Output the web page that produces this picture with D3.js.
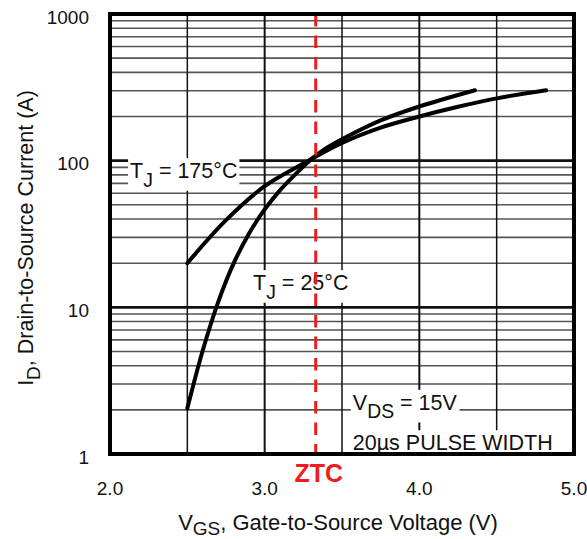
<!DOCTYPE html>
<html>
<head>
<meta charset="utf-8">
<script src="https://cdn.jsdelivr.net/npm/d3@7"></script>
<style>
  body { margin: 0; background: #fff; }
  svg { display: block; font-family: "Liberation Sans", Arial, sans-serif; }
</style>
</head>
<body>
<div id="chart"></div>
<script>
const vgs175 = [2.5, 2.75, 3.0, 3.25, 3.5, 3.75, 4.0, 4.25, 4.5, 4.82];
const id175 = [20, 39.3, 67, 95.5, 132, 168, 200, 233, 266, 302];
const vgs25 = [2.5, 2.6, 2.7, 2.8, 2.9, 3.0, 3.1, 3.2, 3.3, 3.4, 3.5, 3.75, 4.0, 4.36];
const id25 = [2.05, 5.1, 10.9, 20, 32, 46.5, 63, 81, 102, 122, 140, 188, 234, 302];
const xTicks = [2.0, 3.0, 4.0, 5.0];
const xGrid = [2.5, 3.0, 3.5, 4.0, 4.5];
const yTicks = [1, 10, 100, 1000];
const ztc = 3.33;

document.addEventListener("DOMContentLoaded", function () {
    const width = 587, height = 539;
    const margin = { top: 14, right: 13, bottom: 85, left: 110 };
    const w = width - margin.left - margin.right;
    const h = height - margin.top - margin.bottom;

    const svg = d3.select("#chart").append("svg")
        .attr("width", width)
        .attr("height", height);

    const g = svg.append("g")
        .attr("transform", `translate(${margin.left},${margin.top})`);

    const x = d3.scaleLinear().domain([2, 5]).range([0, w]);
    const y = d3.scaleLog().domain([1, 1000]).range([h, 0]);

    // minor horizontal grid (2..9 in each decade)
    const minor = [];
    [1, 10, 100].forEach(dec => {
        for (let k = 2; k <= 9; k++) minor.push(k * dec);
    });
    g.selectAll(".minor")
        .data(minor)
        .enter().append("line")
        .attr("x1", 0).attr("x2", w)
        .attr("y1", d => y(d)).attr("y2", d => y(d))
        .attr("stroke", "#555")
        .attr("stroke-width", 1.6);

    // decade lines
    g.selectAll(".major")
        .data([10, 100])
        .enter().append("line")
        .attr("x1", 0).attr("x2", w)
        .attr("y1", d => y(d)).attr("y2", d => y(d))
        .attr("stroke", "#111")
        .attr("stroke-width", 2.6);

    // vertical grid
    g.selectAll(".vgrid")
        .data(xGrid)
        .enter().append("line")
        .attr("x1", d => x(d)).attr("x2", d => x(d))
        .attr("y1", 0).attr("y2", h)
        .attr("stroke", "#111")
        .attr("stroke-width", d => d % 1 === 0 ? 2 : 1.5);

    // labels with white background boxes
    function label(xv, yv, main, sub, rest, size) {
        const t = g.append("text")
            .attr("x", x(xv))
            .attr("y", y(yv))
            .attr("font-size", size + "px")
            .attr("fill", "#111");
        t.append("tspan").text(main);
        if (sub) {
            t.append("tspan").attr("dy", size * 0.4).attr("font-size", (size * 0.9) + "px").text(sub);
            t.append("tspan").attr("dy", -size * 0.4).text(rest);
        }
        const bb = t.node().getBBox();
        g.insert("rect", function () { return t.node(); })
            .attr("x", bb.x - 2).attr("y", bb.y - 1)
            .attr("width", bb.width + 4).attr("height", bb.height + 1)
            .attr("fill", "#fff");
        return t;
    }
    label(2.13, 76, "T", "J", " = 175°C", 21.5);
    label(2.925, 13.1, "T", "J", " = 25°C", 21.5);
    label(3.57, 2.0, "V", "DS", " = 15V", 21.5);
    label(3.57, 1.06, "20µs PULSE WIDTH", null, null, 21.5);

    // curves
    const line = d3.line()
        .x(d => x(d[0]))
        .y(d => y(d[1]))
        .curve(d3.curveCatmullRom.alpha(0.5));

    [[vgs175, id175], [vgs25, id25]].forEach(([vs, is]) => {
        g.append("path")
            .datum(vs.map((v, i) => [v, is[i]]))
            .attr("d", line)
            .attr("fill", "none")
            .attr("stroke", "#000")
            .attr("stroke-width", 4)
            .attr("stroke-linecap", "round");
    });

    // ZTC marker
    g.append("line")
        .attr("x1", x(ztc)).attr("x2", x(ztc))
        .attr("y1", 0).attr("y2", h)
        .attr("stroke", "#ee1c1c")
        .attr("stroke-width", 3)
        .attr("stroke-dasharray", "12.5,9");

    g.append("text")
        .attr("x", x(ztc) + 3)
        .attr("y", h + 28)
        .attr("text-anchor", "middle")
        .attr("font-size", "25px")
        .attr("font-weight", "bold")
        .attr("fill", "#ee1c1c")
        .text("ZTC");

    // frame
    g.append("rect")
        .attr("width", w).attr("height", h)
        .attr("fill", "none")
        .attr("stroke", "#000")
        .attr("stroke-width", 4);

    // y tick labels
    g.selectAll(".ylab")
        .data(yTicks)
        .enter().append("text")
        .attr("x", -21)
        .attr("y", d => y(d) + 3)
        .attr("dy", "0.35em")
        .attr("text-anchor", "end")
        .attr("font-size", "19px")
        .attr("fill", "#111")
        .text(d => d);

    // x tick labels
    g.selectAll(".xlab")
        .data(xTicks)
        .enter().append("text")
        .attr("x", d => x(d))
        .attr("y", h + 41)
        .attr("text-anchor", "middle")
        .attr("font-size", "19px")
        .attr("fill", "#111")
        .text(d => d3.format(".1f")(d));

    // axis titles
    const xt = svg.append("text")
        .attr("x", 338)
        .attr("y", 530)
        .attr("text-anchor", "middle")
        .attr("font-size", "22px")
        .attr("fill", "#111");
    xt.append("tspan").text("V");
    xt.append("tspan").attr("dy", 5).attr("font-size", "19px").text("GS");
    xt.append("tspan").attr("dy", -5).text(", Gate-to-Source Voltage (V)");

    const yt = svg.append("text")
        .attr("transform", "translate(33,238) rotate(-90)")
        .attr("text-anchor", "middle")
        .attr("font-size", "21.5px")
        .attr("fill", "#111");
    yt.append("tspan").text("I");
    yt.append("tspan").attr("dy", 7).attr("font-size", "19px").text("D");
    yt.append("tspan").attr("dy", -7).text(", Drain-to-Source Current  (A)");
});
</script>
</body>
</html>
